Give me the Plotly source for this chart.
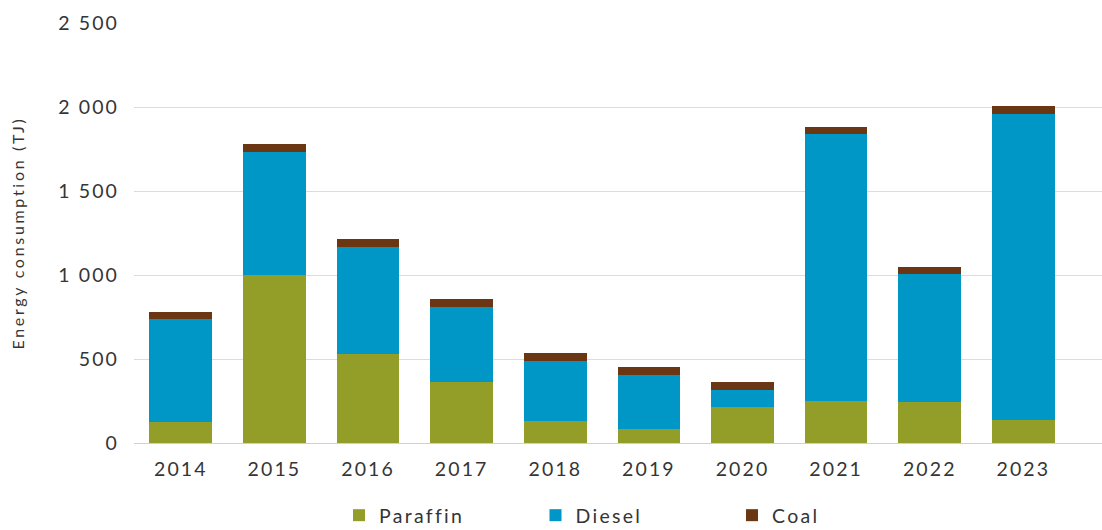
import plotly.graph_objects as go

years = ["2014", "2015", "2016", "2017", "2018", "2019", "2020", "2021", "2022", "2023"]
paraffin = [125, 1000, 532, 363, 130, 86, 214, 250, 244, 139]
diesel = [611, 735, 635, 447, 360, 317, 104, 1589, 760, 1819]
coal = [46, 45, 45, 50, 46, 48, 43, 40, 42, 50]

series_names = ["Paraffin", "Diesel", "Coal"]
series_colors = ["#939E28", "#0097C7", "#6B3614"]

FONT = "Lato"
TXT = "#353535"

fig = go.Figure()
for name, vals, col in zip(series_names, [paraffin, diesel, coal], series_colors):
    fig.add_trace(go.Bar(x=list(range(len(years))), y=vals, name=name,
                         marker=dict(color=col, line=dict(width=0))))

W, H = 1102, 530
L, R, T, B = 134, 0, 22.7, 87.3
fig.update_layout(
    width=W, height=H, autosize=False,
    barmode="stack", bargap=0.33,
    plot_bgcolor="white", paper_bgcolor="white",
    margin=dict(l=L, r=R, t=T, b=B, pad=0, autoexpand=False),
    separators=". ",
    font=dict(family=FONT, color=TXT),
    showlegend=True,
    legend=dict(orientation="h", xref="container", yref="container",
                x=339 / W, xanchor="left",
                y=1 - 515.5 / H, yanchor="middle",
                font=dict(size=19.5, family=FONT, color=TXT),
                entrywidth=151.5, entrywidthmode="pixels",
                itemclick=False, itemdoubleclick=False,
                traceorder="normal", bgcolor="rgba(0,0,0,0)"),
)
fig.update_xaxes(
    range=[-0.5, 9.84],
    tickmode="array", tickvals=list(range(len(years))), ticktext=years,
    showgrid=False, zeroline=False, showline=False, ticks="",
    tickfont=dict(size=19.5, family=FONT, color=TXT),
    ticklabelstandoff=12,
)
fig.update_yaxes(
    range=[0, 2500], tickvals=[0, 500, 1000, 1500, 2000, 2500],
    tickformat=",d",
    showgrid=True, gridcolor="#dcdcdc", gridwidth=1.3,
    zeroline=True, zerolinecolor="#d0d0d0", zerolinewidth=1.3,
    showline=False, ticks="",
    tickfont=dict(size=19.5, family=FONT, color=TXT),
    ticklabelstandoff=14,
    title=dict(text="Energy consumption (TJ)", font=dict(size=16, family=FONT, color=TXT),
               standoff=40),
)

post = """
var s = document.createElement('style');
s.innerHTML = 'html, body {margin:0; padding:0;} .xtick text, .ytick text {letter-spacing: 2.1px;} .legendtext {letter-spacing: 2.3px;} .ytitle {letter-spacing: 2.7px;}';
document.head.appendChild(s);
"""
fig.write_html("out.html", post_script=post, config={"displayModeBar": False})
